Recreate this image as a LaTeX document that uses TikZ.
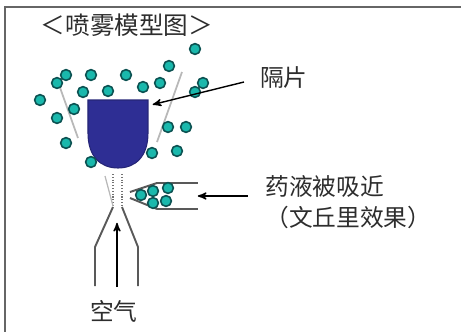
\documentclass[tikz,border=0pt]{standalone}
\usepackage{fontspec}
\newfontfamily\cjk{Noto Sans CJK SC}
\usetikzlibrary{arrows}
\definecolor{shieldblue}{RGB}{46,46,148}
\definecolor{dropfill}{RGB}{26,184,172}
\definecolor{dropline}{RGB}{12,82,82}
\definecolor{textgray}{RGB}{45,45,45}

\begin{document}
\begin{tikzpicture}[x=0.02cm,y=-0.02cm,>=stealth',
  drop/.style={circle,draw=dropline,fill=dropfill,line width=0.9pt,inner sep=0pt,minimum size=0.215cm},
  label/.style={font=\cjk\fontsize{13.5}{16}\selectfont,text=textgray,inner sep=0pt},
  wall/.style={draw=black!65,line width=1.1pt},
  cone/.style={draw=black!28,line width=1pt},
  pointer/.style={->,draw=black,line width=0.8pt,shorten >=1pt}]
\useasboundingbox (0,0) rectangle (461,332);
\draw[black!60,line width=1.2pt] (461,7) -- (5,7) -- (5,332);

\node[label,font=\cjk\fontsize{14}{16}\selectfont] (title) at (127,25) {＜喷雾模型图＞};

% spray cone and shield
\draw[cone] (58,82) -- (78,138);
\draw[cone] (182,72) -- (157,142);
\draw[fill=shieldblue,draw=shieldblue!80!black,line width=0.6pt]
  (88,100) -- (148,100) -- (148,133)
  .. controls (148,157) and (135,168) .. (118,168)
  .. controls (101,168) and (88,157) .. (88,133) -- cycle;
\coordinate (shield) at (151,105);

% droplets
\foreach \x/\y [count=\i] in {195/49,169/66,66/75,91/75,126/75,57/83,160/83,203/83,
    143/87,83/92,108/91,195/92,40/100,74/109,57/118,168/127,186/127,66/143,
    152/153,177/151,91/162}
  \node[drop] (d\i) at (\x,\y) {};

% nozzle
\draw[densely dotted,black!55,line width=0.6pt] (113,174) -- (113,206);
\draw[densely dotted,black!55,line width=0.6pt] (122,174) -- (122,206);
\draw[cone,line width=0.7pt] (105,176) -- (113,206);
\draw[wall] (113,207) -- (95,247) -- (95,286);
\draw[wall] (122,207) -- (138,247) -- (138,286);

% liquid feed
\draw[wall] (198,183) -- (157,183) -- (130,192);
\draw[wall] (198,209) -- (157,209) -- (130,198);
\foreach \x/\y [count=\i] in {141/195,153/191,168/188,153/203,166/201}
  \node[drop] (t\i) at (\x,\y) {};

% labels
\node[label] (shieldlbl) at (284,78) {隔片};
\node[label,anchor=west] (suck) at (265,186) {药液被吸近};
\node[label,anchor=west] (venturi) at (265,217) {（文丘里效果）};
\node[label] (air) at (114,311) {空气};

\coordinate (shieldtail) at (244,82);
\coordinate (sucktail) at (248,196);
\coordinate (sucktip) at (196,196);
\coordinate (airtail) at (117,287);
\coordinate (airtip) at (117,221);
\draw[pointer] (shieldtail) -- (shield);
\draw[pointer] (sucktail) -- (sucktip);
\draw[pointer] (airtail) -- (airtip);
\end{tikzpicture}
\end{document}
